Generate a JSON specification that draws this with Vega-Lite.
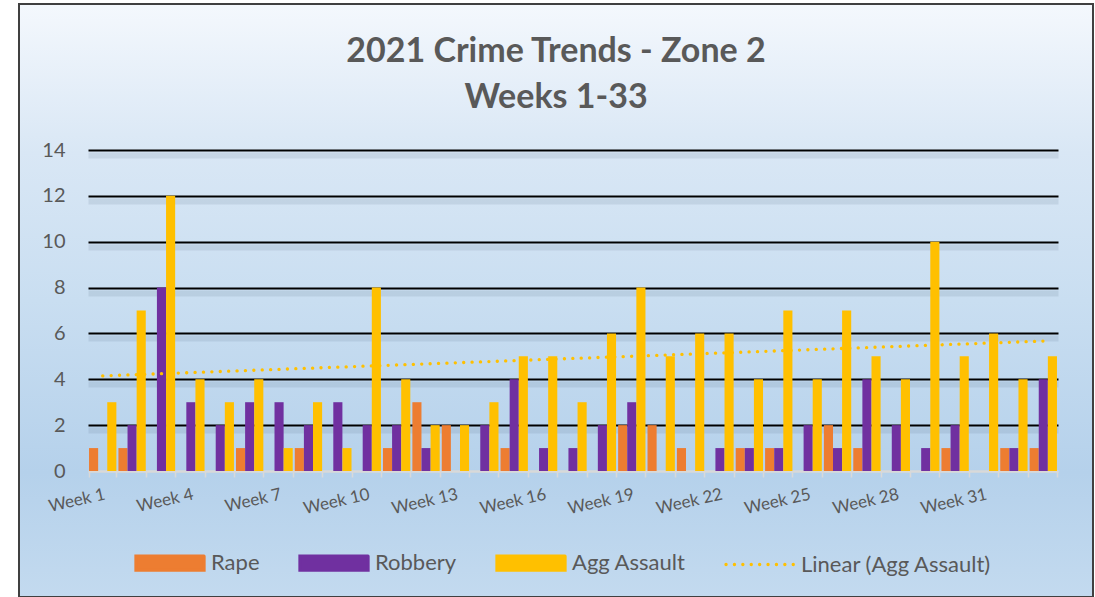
{
  "$schema": "https://vega.github.io/schema/vega-lite/v6.json",
  "autosize": {"type": "none"},
  "width": 1074,
  "height": 593,
  "padding": {"left": 19, "top": 4, "right": 2, "bottom": 0},
  "background": "#FFFFFF",
  "config": {
    "font": "Lato",
    "view": {
      "stroke": "#404040",
      "strokeWidth": 2,
      "fill": {
        "gradient": "linear",
        "x1": 0, "y1": 0, "x2": 0, "y2": 1,
        "stops": [
          {"offset": 0, "color": "#F4F8FD"},
          {"offset": 0.25, "color": "#D9E7F5"},
          {"offset": 0.5, "color": "#C9DEF1"},
          {"offset": 0.79, "color": "#B5D1EB"},
          {"offset": 1, "color": "#C3DAEF"}
        ]
      }
    },
    "axis": {"labelFont": "Lato", "labelColor": "#595959"},
    "legend": {"labelFont": "Lato"}
  },
  "title": {
    "text": ["2021 Crime Trends - Zone 2", "Weeks 1-33"],
    "font": "Lato",
    "fontSize": 34,
    "fontWeight": "bold",
    "color": "#595959",
    "lineHeight": 46,
    "anchor": "middle",
    "frame": "group",
    "offset": -111
  },
  "data": {
    "values": [
      {"week": 1, "Rape": 1, "Robbery": 0, "Agg Assault": 3},
      {"week": 2, "Rape": 1, "Robbery": 2, "Agg Assault": 7},
      {"week": 3, "Rape": 0, "Robbery": 8, "Agg Assault": 12},
      {"week": 4, "Rape": 0, "Robbery": 3, "Agg Assault": 4},
      {"week": 5, "Rape": 0, "Robbery": 2, "Agg Assault": 3},
      {"week": 6, "Rape": 1, "Robbery": 3, "Agg Assault": 4},
      {"week": 7, "Rape": 0, "Robbery": 3, "Agg Assault": 1},
      {"week": 8, "Rape": 1, "Robbery": 2, "Agg Assault": 3},
      {"week": 9, "Rape": 0, "Robbery": 3, "Agg Assault": 1},
      {"week": 10, "Rape": 0, "Robbery": 2, "Agg Assault": 8},
      {"week": 11, "Rape": 1, "Robbery": 2, "Agg Assault": 4},
      {"week": 12, "Rape": 3, "Robbery": 1, "Agg Assault": 2},
      {"week": 13, "Rape": 2, "Robbery": 0, "Agg Assault": 2},
      {"week": 14, "Rape": 0, "Robbery": 2, "Agg Assault": 3},
      {"week": 15, "Rape": 1, "Robbery": 4, "Agg Assault": 5},
      {"week": 16, "Rape": 0, "Robbery": 1, "Agg Assault": 5},
      {"week": 17, "Rape": 0, "Robbery": 1, "Agg Assault": 3},
      {"week": 18, "Rape": 0, "Robbery": 2, "Agg Assault": 6},
      {"week": 19, "Rape": 2, "Robbery": 3, "Agg Assault": 8},
      {"week": 20, "Rape": 2, "Robbery": 0, "Agg Assault": 5},
      {"week": 21, "Rape": 1, "Robbery": 0, "Agg Assault": 6},
      {"week": 22, "Rape": 0, "Robbery": 1, "Agg Assault": 6},
      {"week": 23, "Rape": 1, "Robbery": 1, "Agg Assault": 4},
      {"week": 24, "Rape": 1, "Robbery": 1, "Agg Assault": 7},
      {"week": 25, "Rape": 0, "Robbery": 2, "Agg Assault": 4},
      {"week": 26, "Rape": 2, "Robbery": 1, "Agg Assault": 7},
      {"week": 27, "Rape": 1, "Robbery": 4, "Agg Assault": 5},
      {"week": 28, "Rape": 0, "Robbery": 2, "Agg Assault": 4},
      {"week": 29, "Rape": 0, "Robbery": 1, "Agg Assault": 10},
      {"week": 30, "Rape": 1, "Robbery": 2, "Agg Assault": 5},
      {"week": 31, "Rape": 0, "Robbery": 0, "Agg Assault": 6},
      {"week": 32, "Rape": 1, "Robbery": 1, "Agg Assault": 4},
      {"week": 33, "Rape": 1, "Robbery": 4, "Agg Assault": 5}
    ]
  },
  "resolve": {"scale": {"y": "independent"}, "axis": {"y": "independent"}},
  "layer": [
    {
      "layer": [
        {
          "transform": [{"fold": ["Rape", "Robbery", "Agg Assault"], "as": ["crime", "count"]}],
          "mark": {"type": "bar"},
          "encoding": {
            "x": {
              "field": "week",
              "type": "ordinal",
              "scale": {"range": [69, 1039], "paddingInner": 0.07, "paddingOuter": 0.035},
              "axis": {
                "title": null,
                "offset": -126,
                "grid": false,
                "domainColor": "#D9D9D9",
                "domainWidth": 2.5,
                "tickColor": "#D9D9D9",
                "tickWidth": 1.5,
                "tickSize": 6,
                "tickBand": "extent",
                "labelAngle": -13,
                "labelAlign": "right",
                "labelBaseline": "top",
                "labelPadding": 9,
                "labelFontSize": 17,
                "labelColor": "#595959",
                "labelOverlap": false,
                "labelExpr": "datum.value % 3 === 1 ? 'Week ' + datum.value : ''"
              }
            },
            "xOffset": {
              "field": "crime",
              "type": "nominal",
              "sort": ["Rape", "Robbery", "Agg Assault"],
              "scale": {"paddingInner": 0, "paddingOuter": 0}
            },
            "y": {
              "field": "count",
              "type": "quantitative",
              "scale": {"domain": [0, 14], "range": [467, 146], "nice": false, "zero": true},
              "axis": {
                "orient": "left",
                "title": null,
                "offset": -46,
                "values": [0, 2, 4, 6, 8, 10, 12, 14],
                "domain": false,
                "ticks": false,
                "grid": true,
                "gridColor": {"condition": {"test": "datum.value === 0", "value": "transparent"}, "value": "#000000"},
                "gridWidth": 2,
                "labelPadding": 0,
                "labelFontSize": 20,
                "labelColor": "#595959"
              }
            },
            "color": {
              "field": "crime",
              "type": "nominal",
              "scale": {
                "domain": ["Rape", "Robbery", "Agg Assault", "Linear (Agg Assault)"],
                "range": ["#ED7D31", "#7030A0", "#FFC000", "#FFC000"]
              },
              "legend": {
                "title": null,
                "orient": "none",
                "legendX": 115,
                "legendY": 523,
                "direction": "horizontal",
                "padding": 0,
                "symbolSize": 4624,
                "labelFontSize": 22,
                "labelColor": "#595959",
                "labelOffset": 5,
                "labelLimit": 400,
                "columnPadding": 33,
                "encode": {
                  "symbols": {
                    "update": {
                      "shape": {"signal": "datum.value === 'Linear (Agg Assault)' ? 'stroke' : 'M-1,-0.206H1V0.206H-1Z'"},
                      "fill": {"signal": "datum.value === 'Rape' ? '#ED7D31' : datum.value === 'Robbery' ? '#7030A0' : datum.value === 'Agg Assault' ? '#FFC000' : 'transparent'"},
                      "stroke": {"signal": "datum.value === 'Linear (Agg Assault)' ? '#FFC000' : 'transparent'"},
                      "strokeDash": {"signal": "datum.value === 'Linear (Agg Assault)' ? [0.1, 8.3] : [1, 0]"},
                      "strokeWidth": {"value": 3.3},
                      "strokeCap": {"value": "round"},
                      "opacity": {"value": 1},
                      "fillOpacity": {"value": 1},
                      "strokeOpacity": {"value": 1}
                    }
                  }
                }
              }
            }
          }
        },
        {
          "transform": [{"regression": "Agg Assault", "on": "week"}],
          "mark": {"type": "line", "strokeDash": [0.1, 8.3], "strokeCap": "round", "strokeWidth": 3.3},
          "encoding": {
            "x": {"field": "week", "type": "ordinal"},
            "y": {"field": "Agg Assault", "type": "quantitative"},
            "color": {"datum": "Linear (Agg Assault)"}
          }
        }
      ]
    },
    {
      "mark": {"type": "point", "opacity": 0},
      "encoding": {
        "x": {"field": "week", "type": "ordinal"},
        "y": {
          "field": "Agg Assault",
          "type": "quantitative",
          "scale": {"domain": [0, 14], "range": [472, 151], "nice": false, "zero": true},
          "axis": {
            "orient": "left",
            "title": null,
            "values": [2, 4, 6, 8, 10, 12, 14],
            "labels": false,
            "domain": false,
            "ticks": false,
            "grid": true,
            "gridColor": "#50647A",
            "gridOpacity": 0.13,
            "gridWidth": 6
          }
        }
      }
    }
  ]
}
